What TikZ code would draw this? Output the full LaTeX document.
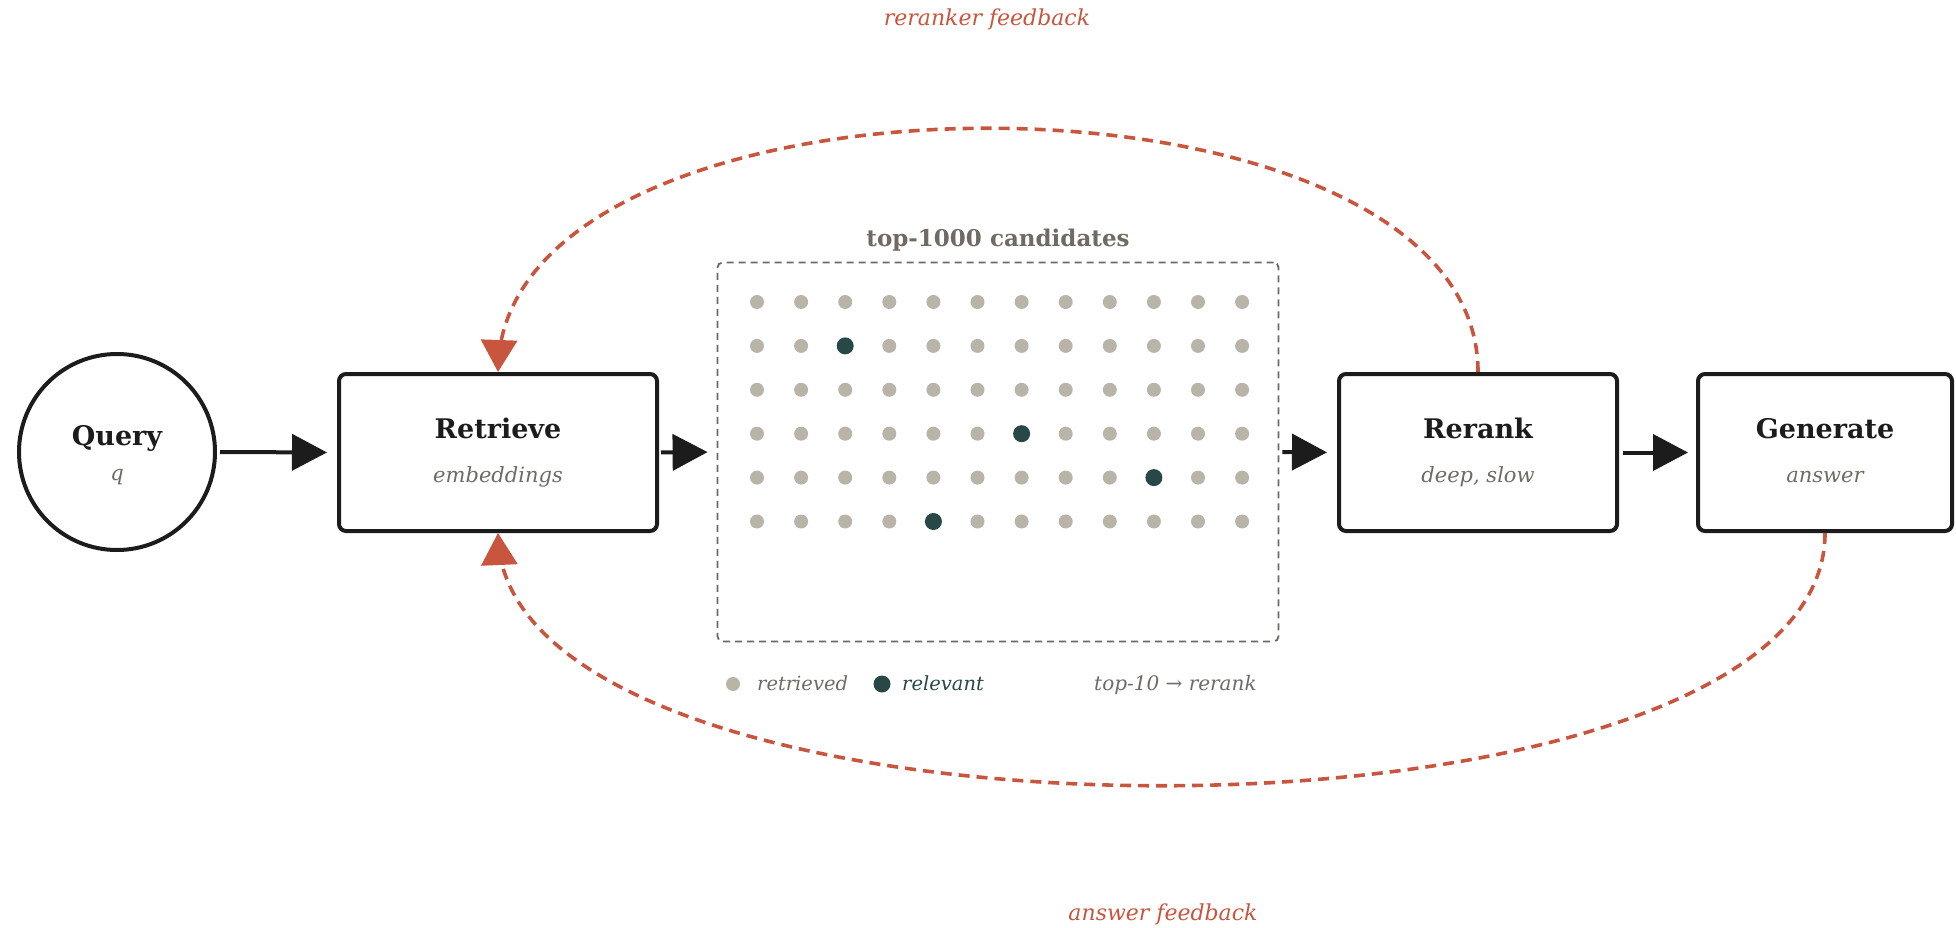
\documentclass[tikz,border=0pt]{standalone}
\usepackage{fontspec}
\setmainfont{DejaVu Serif}
\usetikzlibrary{arrows.meta,bending}
\definecolor{ink}{HTML}{1C1C1C}
\definecolor{muted}{HTML}{6F6B64}
\definecolor{rust}{HTML}{C8553D}
\definecolor{dotgrey}{HTML}{B8B4A8}
\definecolor{deepteal}{HTML}{284848}
\definecolor{framegrey}{HTML}{6B6862}
\begin{document}
\begin{tikzpicture}[x=1pt,y=-1pt,
  stage/.style={draw=ink, line width=4pt, rounded corners=7pt, minimum height=157pt, inner sep=0pt},
  source/.style={circle, draw=ink, line width=4pt, minimum size=196pt, inner sep=0pt},
  title/.style={anchor=base, text=ink, font=\bfseries\fontsize{27}{32}\selectfont, inner sep=0pt},
  sub/.style={anchor=base, text=muted, font=\itshape\fontsize{21}{25}\selectfont, inner sep=0pt},
  flow/.style={draw=ink, line width=4pt, -{Triangle[length=35pt,width=36pt]}},
  fb/.style={draw=rust, line width=3.6pt, dash pattern=on 11pt off 7pt, -{Triangle[length=32pt,width=36pt,flex=0.35]}},
  fblabel/.style={anchor=base, text=rust, font=\itshape\fontsize{22}{26}\selectfont, inner sep=0pt},
  dot/.style={circle, fill=dotgrey, minimum size=14pt, inner sep=0pt},
  hit/.style={circle, fill=deepteal, minimum size=17pt, inner sep=0pt},
  legend/.style={anchor=base west, text=muted, font=\itshape\fontsize{19.5}{23}\selectfont, inner sep=0pt}
]
\useasboundingbox (0,0) rectangle (1956,928);

% pipeline stages
\node[source] (query) at (117,452) {};
\node[title] (queryT) at (117,445) {Query};
\node[sub] (queryS) at (117,480) {q};

\node[stage, minimum width=318pt] (ret) at (498,452.5) {};
\node[title] (retT) at (498,438) {Retrieve};
\node[sub] (retS) at (498,482) {embeddings};

\node[stage, minimum width=278pt] (rer) at (1478,452.5) {};
\node[title] (rerT) at (1478,438) {Rerank};
\node[sub] (rerS) at (1478,482) {deep, slow};

\node[stage, minimum width=254pt] (gen) at (1825,452.5) {};
\node[title] (genT) at (1825,438) {Generate};
\node[sub] (genS) at (1825,482) {answer};

% candidate pool
\node[draw=framegrey, line width=1.8pt, dash pattern=on 7pt off 5pt, rounded corners=5pt,
      minimum width=561pt, minimum height=379pt, inner sep=0pt] (cand) at (998,452) {};
\node[anchor=base, text=muted, font=\bfseries\fontsize{23}{27}\selectfont, inner sep=0pt] (candT) at (998,246) {top-1000 candidates};
\foreach \c in {0,...,11}
  \foreach \r in {0,...,5}
    \node[dot] (d-\c-\r) at (757+44.1*\c, 302+43.9*\r) {};
\foreach \c/\r in {2/1, 6/3, 9/4, 4/5}
  \node[hit] (h-\c-\r) at (757+44.1*\c, 302+43.9*\r) {};

% legend
\node[dot] (legR) at (733,684) {};
\node[legend] (legRT) at (757,690) {retrieved};
\node[hit] (legH) at (882,684) {};
\node[legend, text=deepteal] (legHT) at (902,690) {relevant};
\node[legend, font=\itshape\fontsize{20}{24}\selectfont] (legK) at (1094,690) {top-10 → rerank};

% forward flow
\draw[flow, shorten <=3pt, shorten >=10pt] (query.east) -- (ret.west);
\draw[flow, shorten <=2pt, shorten >=9pt] (ret.east) -- (cand.west);
\draw[flow, shorten <=3pt, shorten >=10pt] (cand.east) -- (rer.west);
\draw[flow, shorten <=4pt, shorten >=8pt] (rer.east) -- (gen.west);

% feedback loops
\draw[fb] (rer.north) .. controls (1478,47) and (498,47) .. (ret.north);
\draw[fb] (gen.south) .. controls (1825,870) and (498,870) .. (ret.south);
\node[fblabel] (fbTop) at (987,26) {reranker feedback};
\node[fblabel] (fbBot) at (1163,920) {answer feedback};
\end{tikzpicture}
\end{document}
